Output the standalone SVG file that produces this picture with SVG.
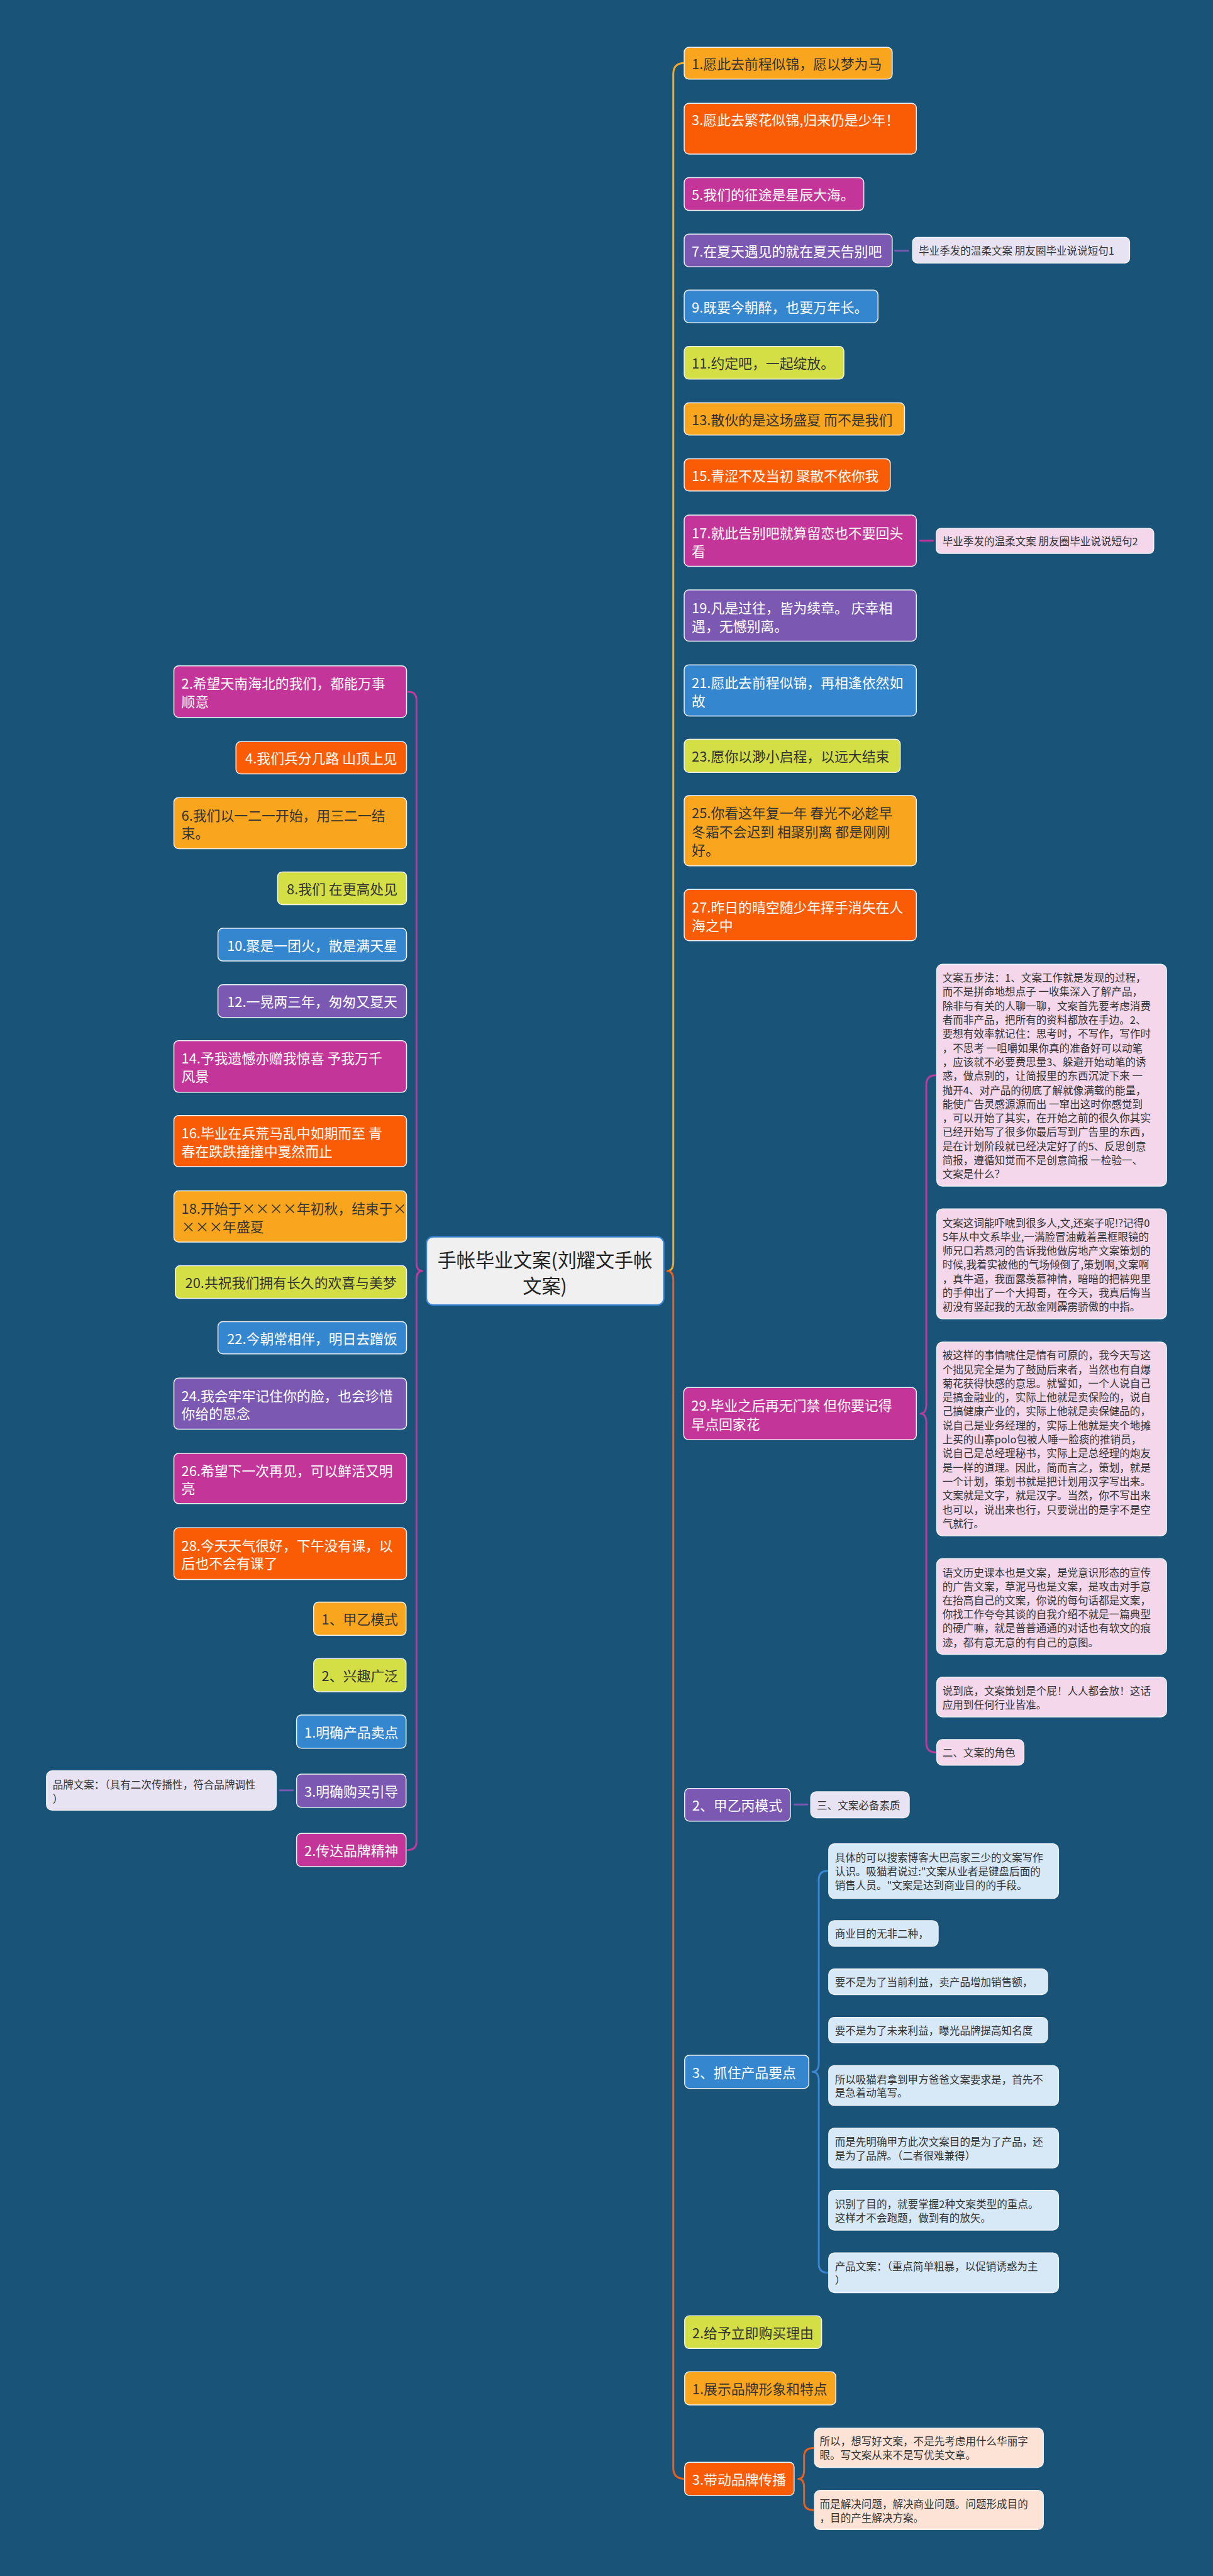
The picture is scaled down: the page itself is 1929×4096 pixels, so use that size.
<svg xmlns="http://www.w3.org/2000/svg" width="1929" height="4096" viewBox="0 0 1929 4096">
<style>
text{font-family:"Noto Sans CJK SC","Noto Sans",sans-serif;dominant-baseline:central}
.m{font-size:29px}
.s{font-size:22px;fill:#333}
.r{font-size:40px;fill:#222}
.w{fill:#fff}
.d{fill:#333}
rect{stroke:#eef2f6;stroke-width:2}
.amb{fill:#f9a51d}
.org{fill:#fa5b05}
.mag{fill:#c4359a}
.pur{fill:#7b58b2}
.blu{fill:#3486cf}
.lim{fill:#d3df45}
.pk{fill:#f5d7ec}
.lv{fill:#e8e3f3}
.lb{fill:#d7e8f6}
.pc{fill:#fde3d5}
.c{fill:none;stroke-width:4;stroke-linecap:round;stroke-linejoin:round}
</style>
<rect x="0" y="0" width="1929" height="4096" fill="#1a5378" style="stroke:none"/>
<g transform="scale(0.7535)">
<g id="connectors">
<path class="c" stroke="#f3a82a" d="M1444,133 Q1421,133 1421,156 L1421,2662 Q1421,2682 1409,2682"/>
<path class="c" stroke="#ea5f1c" d="M1409,2682 Q1421,2682 1421,2702 L1421,5208 Q1421,5231 1445,5231"/>
<path class="c" stroke="#c0399b" d="M862,1460 Q879,1460 879,1478 L879,2664 Q879,2682 891,2682 Q879,2682 879,2700 L879,3886 Q879,3904 861,3904"/>
<path class="c" stroke="#b93c9c" d="M1975,2269 Q1955,2269 1955,2289 L1955,2963 Q1955,2983 1943,2983 Q1955,2983 1955,3003 L1955,3678 Q1955,3698 1975,3698"/>
<path class="c" stroke="#3a87d0" d="M1747,3948 Q1728,3948 1728,3967 L1728,4353 Q1728,4372 1715,4372 Q1728,4372 1728,4391 L1728,4777 Q1728,4796 1747,4796"/>
<path class="c" stroke="#ea5f1c" d="M1717,5166 Q1697,5166 1697,5184 L1697,5213 Q1697,5231 1685,5231 Q1697,5231 1697,5249 L1697,5279 Q1697,5297 1717,5297"/>
<path class="c" stroke="#7b58b2" d="M1889,529 L1917,529"/>
<path class="c" stroke="#c4359a" d="M1942,1141 L1969,1141"/>
<path class="c" stroke="#7b58b2" d="M1677,3808 L1704,3808"/>
<path class="c" stroke="#7b58b2" d="M618,3778 L591,3778"/>
</g>
<g id="root"><rect x="900" y="2610" width="501" height="144" rx="14" fill="#f0f0f0" style="stroke:#3b82d0;stroke-width:3"/><text class="r" text-anchor="middle"><tspan x="1150" y="2657">手帐毕业文案(刘耀文手帐</tspan><tspan x="1150" y="2712">文案)</tspan></text></g>
<g id="r1"><rect class="amb" x="1444" y="100" width="439" height="67" rx="10"/><text class="m d" x="1460" y="133.5">1.愿此去前程似锦，愿以梦为马</text></g>
<g id="r3"><rect class="org" x="1444" y="218" width="490" height="107" rx="10"/><text class="m w" x="1460" y="252">3.愿此去繁花似锦,归来仍是少年！</text></g>
<g id="r5"><rect class="mag" x="1444" y="375" width="379" height="69" rx="10"/><text class="m w" x="1460" y="409.5">5.我们的征途是星辰大海。</text></g>
<g id="r7"><rect class="pur" x="1444" y="494" width="439" height="69" rx="10"/><text class="m w" x="1460" y="528.5">7.在夏天遇见的就在夏天告别吧</text></g>
<g id="r7a"><rect class="lv" x="1926" y="501" width="458" height="54" rx="10"/><text class="s" x="1939" y="528">毕业季发的温柔文案 朋友圈毕业说说短句1</text></g>
<g id="r9"><rect class="blu" x="1444" y="612" width="409" height="69" rx="10"/><text class="m w" x="1460" y="646.5">9.既要今朝醉，也要万年长。</text></g>
<g id="r11"><rect class="lim" x="1444" y="731" width="337" height="69" rx="10"/><text class="m d" x="1460" y="765.5">11.约定吧，一起绽放。</text></g>
<g id="r13"><rect class="amb" x="1444" y="850" width="465" height="68" rx="10"/><text class="m d" x="1460" y="884">13.散伙的是这场盛夏 而不是我们</text></g>
<g id="r15"><rect class="org" x="1444" y="968" width="435" height="68" rx="10"/><text class="m w" x="1460" y="1002">15.青涩不及当初 聚散不依你我</text></g>
<g id="r17"><rect class="mag" x="1444" y="1087" width="490" height="108" rx="10"/><text class="m w"><tspan x="1460" y="1123">17.就此告别吧就算留恋也不要回头</tspan><tspan x="1460" y="1161.5">看</tspan></text></g>
<g id="r17a"><rect class="pk" x="1976" y="1115" width="459" height="53" rx="10"/><text class="s" x="1989" y="1141.5">毕业季发的温柔文案 朋友圈毕业说说短句2</text></g>
<g id="r19"><rect class="pur" x="1444" y="1245" width="490" height="108" rx="10"/><text class="m w"><tspan x="1460" y="1281">19.凡是过往，皆为续章。 庆幸相</tspan><tspan x="1460" y="1319.5">遇，无憾别离。</tspan></text></g>
<g id="r21"><rect class="blu" x="1444" y="1403" width="490" height="108" rx="10"/><text class="m w"><tspan x="1460" y="1439">21.愿此去前程似锦，再相逢依然如</tspan><tspan x="1460" y="1477.5">故</tspan></text></g>
<g id="r23"><rect class="lim" x="1444" y="1560" width="456" height="70" rx="10"/><text class="m d" x="1460" y="1595">23.愿你以渺小启程，以远大结束</text></g>
<g id="r25"><rect class="amb" x="1444" y="1679" width="490" height="148" rx="10"/><text class="m d"><tspan x="1460" y="1714">25.你看这年复一年 春光不必趁早</tspan><tspan x="1460" y="1753">冬霜不会迟到 相聚别离 都是刚刚</tspan><tspan x="1460" y="1792">好。</tspan></text></g>
<g id="r27"><rect class="org" x="1444" y="1877" width="490" height="108" rx="10"/><text class="m w"><tspan x="1460" y="1913">27.昨日的晴空随少年挥手消失在人</tspan><tspan x="1460" y="1951.5">海之中</tspan></text></g>
<g id="r29"><rect class="mag" x="1443" y="2928" width="491" height="110" rx="10"/><text class="m w"><tspan x="1459" y="2964">29.毕业之后再无门禁 但你要记得</tspan><tspan x="1459" y="3003">早点回家花</tspan></text></g>
<g id="r29a"><rect class="pk" x="1977" y="2035" width="485" height="468" rx="12"/><text class="s"><tspan x="1989" y="2062.5">文案五步法：1、文案工作就是发现的过程，</tspan><tspan x="1989" y="2092.1">而不是拼命地想点子 一收集深入了解产品，</tspan><tspan x="1989" y="2121.7">除非与有关的人聊一聊，文案首先要考虑消费</tspan><tspan x="1989" y="2151.3">者而非产品，把所有的资料都放在手边。2、</tspan><tspan x="1989" y="2180.9">要想有效率就记住：思考时，不写作，写作时</tspan><tspan x="1989" y="2210.5">，不思考 一咀嚼如果你真的准备好可以动笔</tspan><tspan x="1989" y="2240.1">，应该就不必要费思量3、躲避开始动笔的诱</tspan><tspan x="1989" y="2269.7">惑，做点别的，让简报里的东西沉淀下来 一</tspan><tspan x="1989" y="2299.3">抛开4、对产品的彻底了解就像满载的能量，</tspan><tspan x="1989" y="2328.9">能使广告灵感源源而出 一窜出这时你感觉到</tspan><tspan x="1989" y="2358.5">，可以开始了其实，在开始之前的很久你其实</tspan><tspan x="1989" y="2388.1">已经开始写了很多你最后写到广告里的东西，</tspan><tspan x="1989" y="2417.7">是在计划阶段就已经决定好了的5、反思创意</tspan><tspan x="1989" y="2447.3">简报，遵循知觉而不是创意简报 一检验一、</tspan><tspan x="1989" y="2476.9">文案是什么？</tspan></text></g>
<g id="r29b"><rect class="pk" x="1977" y="2551" width="485" height="232" rx="12"/><text class="s"><tspan x="1989" y="2580">文案这词能吓唬到很多人,文,还案子呢!?记得0</tspan><tspan x="1989" y="2609.4">5年从中文系毕业,一满脸冒油戴着黑框眼镜的</tspan><tspan x="1989" y="2638.8">师兄口若悬河的告诉我他做房地产文案策划的</tspan><tspan x="1989" y="2668.2">时候,我着实被他的气场倾倒了,策划啊,文案啊</tspan><tspan x="1989" y="2697.6">，真牛逼，我面露羡慕神情，暗暗的把裤兜里</tspan><tspan x="1989" y="2727">的手伸出了一个大拇哥，在今天，我真后悔当</tspan><tspan x="1989" y="2756.4">初没有竖起我的无敌金刚霹雳骄傲的中指。</tspan></text></g>
<g id="r29c"><rect class="pk" x="1977" y="2832" width="485" height="409" rx="12"/><text class="s"><tspan x="1989" y="2859">被这样的事情唬住是情有可原的，我今天写这</tspan><tspan x="1989" y="2888.6">个拙见完全是为了鼓励后来者，当然也有自爆</tspan><tspan x="1989" y="2918.2">菊花获得快感的意思。就譬如，一个人说自己</tspan><tspan x="1989" y="2947.8">是搞金融业的，实际上他就是卖保险的，说自</tspan><tspan x="1989" y="2977.4">己搞健康产业的，实际上他就是卖保健品的，</tspan><tspan x="1989" y="3007">说自己是业务经理的，实际上他就是夹个地摊</tspan><tspan x="1989" y="3036.6">上买的山寨polo包被人唾一脸痰的推销员，</tspan><tspan x="1989" y="3066.2">说自己是总经理秘书，实际上是总经理的炮友</tspan><tspan x="1989" y="3095.8">是一样的道理。因此，简而言之，策划，就是</tspan><tspan x="1989" y="3125.4">一个计划，策划书就是把计划用汉字写出来。</tspan><tspan x="1989" y="3155">文案就是文字，就是汉字。当然，你不写出来</tspan><tspan x="1989" y="3184.6">也可以，说出来也行，只要说出的是字不是空</tspan><tspan x="1989" y="3214.2">气就行。</tspan></text></g>
<g id="r29d"><rect class="pk" x="1977" y="3289" width="485" height="202" rx="12"/><text class="s"><tspan x="1989" y="3318">语文历史课本也是文案，是党意识形态的宣传</tspan><tspan x="1989" y="3347.3">的广告文案，草泥马也是文案，是攻击对手意</tspan><tspan x="1989" y="3376.6">在抬高自己的文案，你说的每句话都是文案，</tspan><tspan x="1989" y="3405.9">你找工作夸夸其谈的自我介绍不就是一篇典型</tspan><tspan x="1989" y="3435.2">的硬广嘛，就是普普通通的对话也有软文的痕</tspan><tspan x="1989" y="3464.5">迹，都有意无意的有自己的意图。</tspan></text></g>
<g id="r29e"><rect class="pk" x="1977" y="3539" width="485" height="84" rx="12"/><text class="s"><tspan x="1989" y="3568">说到底，文案策划是个屁！人人都会放！这话</tspan><tspan x="1989" y="3597">应用到任何行业皆准。</tspan></text></g>
<g id="r29f"><rect class="pk" x="1977" y="3671" width="184" height="54" rx="12"/><text class="s" x="1989" y="3698">二、文案的角色</text></g>
<g id="rjyb"><rect class="pur" x="1445" y="3774" width="223" height="69" rx="10"/><text class="m w" x="1461" y="3808.5">2、甲乙丙模式</text></g>
<g id="rjyb1"><rect class="lv" x="1711" y="3781" width="208" height="55" rx="12"/><text class="s" x="1724" y="3808.5">三、文案必备素质</text></g>
<g id="rzz"><rect class="blu" x="1445" y="4337" width="262" height="70" rx="10"/><text class="m w" x="1461" y="4372">3、抓住产品要点</text></g>
<g id="rzz1"><rect class="lb" x="1749" y="3891" width="485" height="115" rx="12"/><text class="s"><tspan x="1762" y="3919">具体的可以搜索博客大巴高家三少的文案写作</tspan><tspan x="1762" y="3948.5">认识。吸猫君说过:"文案从业者是键盘后面的</tspan><tspan x="1762" y="3978">销售人员。"文案是达到商业目的的手段。</tspan></text></g>
<g id="rzz2"><rect class="lb" x="1749" y="4053" width="231" height="54" rx="12"/><text class="s" x="1762" y="4080">商业目的无非二种，</text></g>
<g id="rzz3"><rect class="lb" x="1749" y="4155" width="462" height="54" rx="12"/><text class="s" x="1762" y="4182">要不是为了当前利益，卖产品增加销售额，</text></g>
<g id="rzz4"><rect class="lb" x="1749" y="4257" width="462" height="54" rx="12"/><text class="s" x="1762" y="4284">要不是为了未来利益，曝光品牌提高知名度</text></g>
<g id="rzz5"><rect class="lb" x="1749" y="4359" width="485" height="84" rx="12"/><text class="s"><tspan x="1762" y="4387">所以吸猫君拿到甲方爸爸文案要求是，首先不</tspan><tspan x="1762" y="4416">是急着动笔写。</tspan></text></g>
<g id="rzz6"><rect class="lb" x="1749" y="4491" width="485" height="84" rx="12"/><text class="s"><tspan x="1762" y="4519">而是先明确甲方此次文案目的是为了产品，还</tspan><tspan x="1762" y="4548">是为了品牌。（二者很难兼得）</tspan></text></g>
<g id="rzz7"><rect class="lb" x="1749" y="4622" width="485" height="84" rx="12"/><text class="s"><tspan x="1762" y="4650">识别了目的，就要掌握2种文案类型的重点。</tspan><tspan x="1762" y="4680">这样才不会跑题，做到有的放矢。</tspan></text></g>
<g id="rzz8"><rect class="lb" x="1749" y="4754" width="485" height="84" rx="12"/><text class="s"><tspan x="1762" y="4782">产品文案：（重点简单粗暴，以促销诱惑为主</tspan><tspan x="1762" y="4811">）</tspan></text></g>
<g id="rgy"><rect class="lim" x="1445" y="4887" width="289" height="69" rx="10"/><text class="m d" x="1461" y="4921.5">2.给予立即购买理由</text></g>
<g id="rzs"><rect class="amb" x="1445" y="5005" width="319" height="70" rx="10"/><text class="m d" x="1461" y="5040">1.展示品牌形象和特点</text></g>
<g id="rdd"><rect class="org" x="1445" y="5196" width="231" height="70" rx="10"/><text class="m w" x="1461" y="5231">3.带动品牌传播</text></g>
<g id="rdd1"><rect class="pc" x="1719" y="5124" width="483" height="83" rx="12"/><text class="s"><tspan x="1730" y="5151">所以，想写好文案，不是先考虑用什么华丽字</tspan><tspan x="1730" y="5180">眼。写文案从来不是写优美文章。</tspan></text></g>
<g id="rdd2"><rect class="pc" x="1719" y="5255" width="483" height="83" rx="12"/><text class="s"><tspan x="1730" y="5283">而是解决问题，解决商业问题。问题形成目的</tspan><tspan x="1730" y="5312">，目的产生解决方案。</tspan></text></g>
<g id="l2"><rect class="mag" x="367" y="1405" width="491" height="109" rx="10"/><text class="m w"><tspan x="383" y="1440">2.希望天南海北的我们，都能万事</tspan><tspan x="383" y="1478">顺意</tspan></text></g>
<g id="l4"><rect class="org" x="498" y="1565" width="360" height="68" rx="10"/><text class="m w" x="678" y="1599" text-anchor="middle">4.我们兵分几路 山顶上见</text></g>
<g id="l6"><rect class="amb" x="367" y="1683" width="491" height="108" rx="10"/><text class="m d"><tspan x="383" y="1718">6.我们以一二一开始，用三二一结</tspan><tspan x="383" y="1756">束。</tspan></text></g>
<g id="l8"><rect class="lim" x="586" y="1840" width="272" height="69" rx="10"/><text class="m d" x="722" y="1874.5" text-anchor="middle">8.我们 在更高处见</text></g>
<g id="l10"><rect class="blu" x="460" y="1959" width="398" height="69" rx="10"/><text class="m w" x="659" y="1993.5" text-anchor="middle">10.聚是一团火，散是满天星</text></g>
<g id="l12"><rect class="pur" x="460" y="2078" width="398" height="69" rx="10"/><text class="m w" x="659" y="2112.5" text-anchor="middle">12.一晃两三年，匆匆又夏天</text></g>
<g id="l14"><rect class="mag" x="367" y="2196" width="491" height="109" rx="10"/><text class="m w"><tspan x="383" y="2231">14.予我遗憾亦赠我惊喜 予我万千</tspan><tspan x="383" y="2269">风景</tspan></text></g>
<g id="l16"><rect class="org" x="367" y="2354" width="491" height="108" rx="10"/><text class="m w"><tspan x="383" y="2389">16.毕业在兵荒马乱中如期而至 青</tspan><tspan x="383" y="2427">春在跌跌撞撞中戛然而止</tspan></text></g>
<g id="l18"><rect class="amb" x="367" y="2513" width="491" height="108" rx="10"/><text class="m d"><tspan x="383" y="2548">18.开始于××××年初秋，结束于×</tspan><tspan x="383" y="2586">×××年盛夏</tspan></text></g>
<g id="l20"><rect class="lim" x="370" y="2671" width="488" height="69" rx="10"/><text class="m d" x="614" y="2705.5" text-anchor="middle">20.共祝我们拥有长久的欢喜与美梦</text></g>
<g id="l22"><rect class="blu" x="460" y="2789" width="398" height="68" rx="10"/><text class="m w" x="659" y="2823" text-anchor="middle">22.今朝常相伴，明日去蹭饭</text></g>
<g id="l24"><rect class="pur" x="367" y="2908" width="491" height="108" rx="10"/><text class="m w"><tspan x="383" y="2943">24.我会牢牢记住你的脸，也会珍惜</tspan><tspan x="383" y="2981">你给的思念</tspan></text></g>
<g id="l26"><rect class="mag" x="367" y="3067" width="491" height="106" rx="10"/><text class="m w"><tspan x="383" y="3101">26.希望下一次再见，可以鲜活又明</tspan><tspan x="383" y="3139">亮</tspan></text></g>
<g id="l28"><rect class="org" x="367" y="3224" width="491" height="109" rx="10"/><text class="m w"><tspan x="383" y="3259">28.今天天气很好，下午没有课，以</tspan><tspan x="383" y="3297">后也不会有课了</tspan></text></g>
<g id="ljy"><rect class="amb" x="662" y="3381" width="195" height="70" rx="10"/><text class="m d" x="759.5" y="3416" text-anchor="middle">1、甲乙模式</text></g>
<g id="lxq"><rect class="lim" x="662" y="3500" width="195" height="70" rx="10"/><text class="m d" x="759.5" y="3535" text-anchor="middle">2、兴趣广泛</text></g>
<g id="lmq1"><rect class="blu" x="626" y="3619" width="231" height="70" rx="10"/><text class="m w" x="741.5" y="3654" text-anchor="middle">1.明确产品卖点</text></g>
<g id="lmq3"><rect class="pur" x="626" y="3744" width="231" height="70" rx="10"/><text class="m w" x="741.5" y="3779" text-anchor="middle">3.明确购买引导</text></g>
<g id="lmq3a"><rect class="lv" x="98" y="3737" width="485" height="83" rx="12"/><text class="s"><tspan x="111" y="3765">品牌文案：（具有二次传播性，符合品牌调性</tspan><tspan x="111" y="3795">）</tspan></text></g>
<g id="lcd"><rect class="mag" x="626" y="3869" width="231" height="70" rx="10"/><text class="m w" x="741.5" y="3904" text-anchor="middle">2.传达品牌精神</text></g>
</g>
</svg>
